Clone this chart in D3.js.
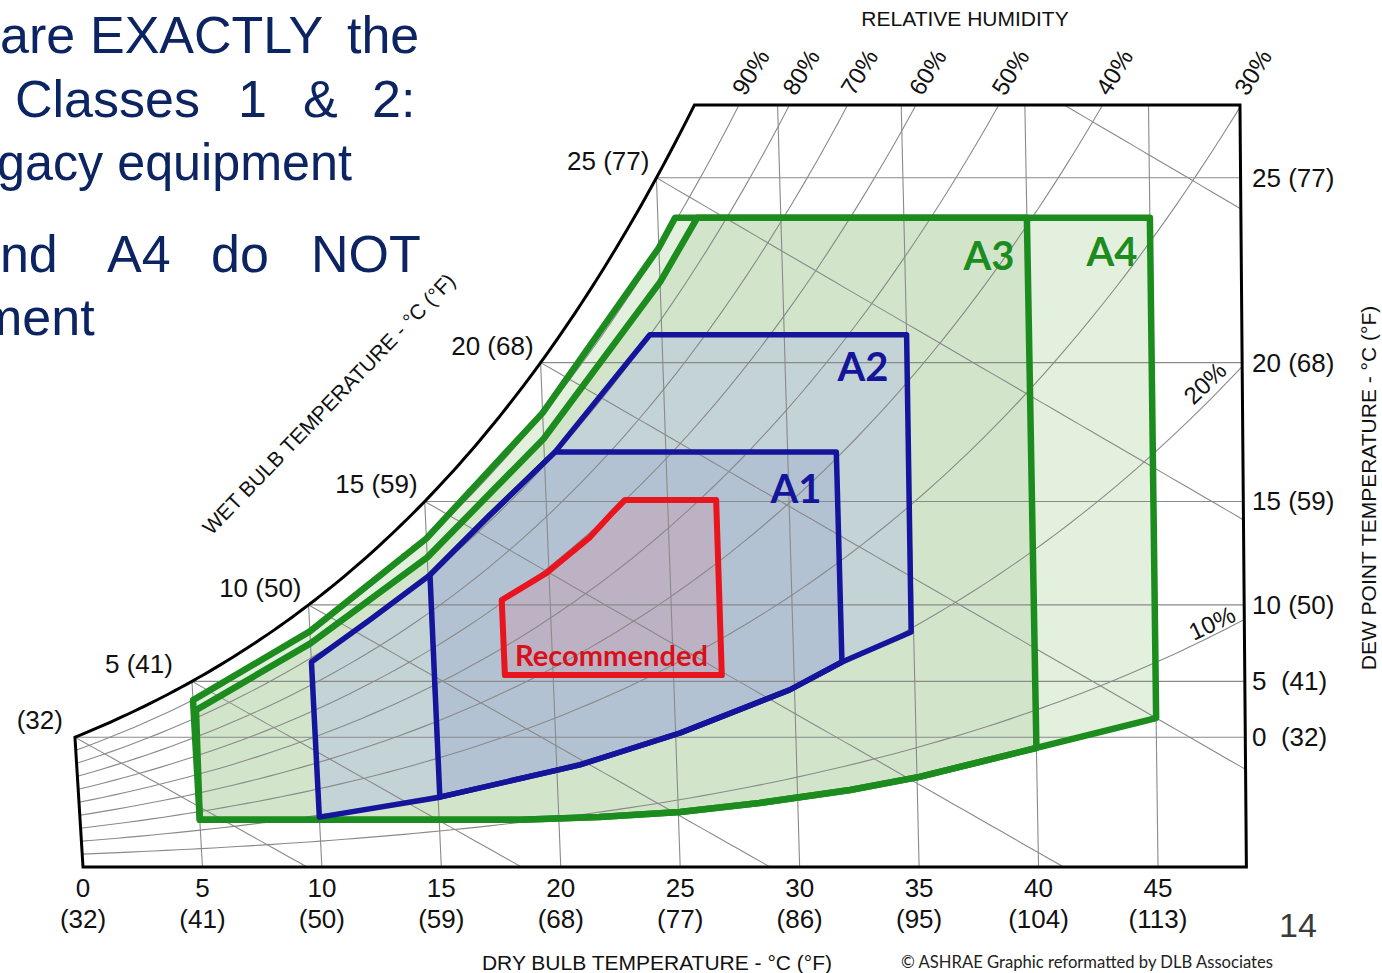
<!DOCTYPE html>
<html>
<head>
<meta charset="utf-8">
<script src="https://cdn.jsdelivr.net/npm/d3@7"></script>
<style>
  body { margin: 0; background: #fff; }
  svg { display: block; font-family: 'Liberation Sans', Arial, sans-serif; }
  .pre { white-space: pre; }
</style>
</head>
<body>
<svg id="chart" width="1382" height="973"></svg>
<script>
// ---- axis values ----
const dryBulbTicks = [0, 5, 10, 15, 20, 25, 30, 35, 40, 45];
const dryBulbF = ["(32)", "(41)", "(50)", "(59)", "(68)", "(77)", "(86)", "(95)", "(104)", "(113)"];
const dewPointTicks = [0, 5, 10, 15, 20, 25];
const dewPointLabels = ["0  (32)", "5  (41)", "10 (50)", "15 (59)", "20 (68)", "25 (77)"];
const wetBulbTicks = [0, 5, 10, 15, 20, 25];
const wetBulbLabels = ["(32)", "5 (41)", "10 (50)", "15 (59)", "20 (68)", "25 (77)"];
const wetBulbLines = [0, 5, 10, 15, 20, 25, 30];
const rhLines = [0.1, 0.2, 0.3, 0.4, 0.5, 0.6, 0.7, 0.8, 0.9];
const rhTopLabels = [0.9, 0.8, 0.7, 0.6, 0.5, 0.4, 0.3];
const rhSideLabels = [0.2, 0.1];

// ---- envelopes: [dry bulb °C, humidity ratio g/kg] ----
const recommended = [[18, 5.58], [18, 7.76], [19.9, 8.55], [21.75, 9.59], [22.7, 10.29], [23.25, 10.67], [27, 10.67], [27, 5.58]];
const classA1 = [[15.07, 2.03], [15.08, 8.49], [17.66, 10.23], [20.44, 12.06], [32, 12.06], [32, 5.96], [29.8, 5.15], [25.2, 3.9], [20.97, 2.97]];
const classA2 = [[10, 1.45], [10, 5.96], [12.5, 7.18], [15.08, 8.49], [17.66, 10.23], [20.44, 12.06], [24.51, 15.47], [35, 15.47], [34.9, 6.83], [32, 5.96], [29.8, 5.15], [25.2, 3.9], [20.97, 2.97], [15.07, 2.03]];
const lowerA34 = [[40, 3.46], [35.1, 2.62], [32.2, 2.24], [28.4, 1.86], [25.07, 1.6], [21.7, 1.45], [18.4, 1.37], [5, 1.37]];
const classA3 = [[5.1, 4.56], [10, 6.5], [15, 9.0], [20, 12.45], [25, 17.0], [26.6, 18.87], [40, 18.87]].concat(lowerA34);
const classA4 = [[5, 4.85], [10, 6.85], [15, 9.55], [20, 13.2], [25, 18.0], [25.7, 18.87], [45, 18.87], [45, 4.33]].concat(lowerA34);

// ---- psychrometrics (sea level) ----
const P = 101.325;
const pws = t => 0.61094 * Math.exp(17.625 * t / (t + 243.04));
const wFromPv = pv => 622 * pv / (P - pv);
const wSat = t => wFromPv(pws(t));
const wRh = (t, rh) => wFromPv(rh * pws(t));
const wWet = (t, twb) => {
  const ws = wSat(twb) / 1000;
  return 1000 * ((2501 - 2.326 * twb) * ws - 1.006 * (t - twb)) / (2501 + 1.86 * t - 4.186 * twb);
};
function solve(f, lo, hi) {
  for (let i = 0; i < 60; i++) {
    const m = (lo + hi) / 2;
    if (f(lo) * f(m) <= 0) hi = m; else lo = m;
  }
  return (lo + hi) / 2;
}

// ---- scales ----
const tMax = 48.7, wMax = 22.15;
const x = d3.scaleLinear().domain([0, 45]).range([83, 1158]);
const y = d3.scaleLinear().domain([0, wMax]).range([867, 105]);
// dry bulb lines lean a little to the left going up
const tilt = t => 0.062 - 0.0011 * t;
const px = (t, w) => x(t) - tilt(t) * (y(0) - y(w));
const pt = d => [px(d[0], d[1]), y(d[1])];
const line = d3.line();

const svg = d3.select("#chart");

// ---- frame ----
const tTop = solve(t => wSat(t) - wMax, 20, 35);
const frame = [[0, 0]].concat(d3.range(0, tTop, 0.25).map(t => [t, wSat(t)]))
  .concat([[tTop, wMax], [tMax, wMax], [tMax, 0]]).map(pt);

svg.append("clipPath").attr("id", "plot")
  .append("path").attr("d", line(frame) + "Z");

const envelopes = [
  { pts: classA4, fill: "#e3f0dd", stroke: "#1c8c1e", sw: 6.5 },
  { pts: classA3, fill: "#d2e5ca", stroke: "#1c8c1e", sw: 6.5 },
  { pts: classA2, fill: "#c3d3d6", stroke: "#15159c", sw: 5.5 },
  { pts: classA1, fill: "#b2c2d3", stroke: "#15159c", sw: 5.5 },
  { pts: recommended, fill: "#bcb2c4", stroke: "#e8141e", sw: 6 }
];

svg.append("g").selectAll("path").data(envelopes).join("path")
  .attr("d", d => line(d.pts.map(pt)) + "Z")
  .attr("fill", d => d.fill);

// ---- grid ----
const grid = svg.append("g").attr("clip-path", "url(#plot)")
  .attr("fill", "none").attr("stroke", "#8a8a8a").attr("stroke-width", 1.1);

// dry bulb
grid.selectAll(".db").data(dryBulbTicks.slice(1)).join("path")
  .attr("d", t => line([[t, 0], [t, Math.min(wSat(t), wMax)]].map(pt)));
// dew point
grid.selectAll(".dp").data(dewPointTicks).join("path")
  .attr("d", t => line([[t, wSat(t)], [tMax, wSat(t)]].map(pt)));
// relative humidity
grid.selectAll(".rh").data(rhLines).join("path")
  .attr("d", rh => line(d3.range(-3, tMax + 2, 0.5).map(t => pt([t, wRh(t, rh)]))));
// wet bulb
grid.selectAll(".wb").data(wetBulbLines).join("path")
  .attr("d", twb => {
    const pts = [];
    for (let t = twb; t < 75; t += 0.5) {
      const w = wWet(t, twb);
      pts.push([t, w]);
      if (w < 0) break;
    }
    return line(pts.map(pt));
  });

// frame outline
svg.append("path").attr("d", line(frame) + "Z")
  .attr("fill", "none").attr("stroke", "#000").attr("stroke-width", 3)
  .attr("stroke-linejoin", "miter");

// envelope outlines
svg.append("g").attr("fill", "none").attr("stroke-linejoin", "round")
  .selectAll("path").data(envelopes).join("path")
  .attr("d", d => line(d.pts.map(pt)) + "Z")
  .attr("stroke", d => d.stroke)
  .attr("stroke-width", d => d.sw);

// ---- envelope labels ----
const tags = svg.append("g").style("font-family", "Lato, 'Open Sans', sans-serif").style("font-weight", "bold");
tags.append("text").attr("x", 989).attr("y", 270).attr("text-anchor", "middle").attr("font-size", 40).attr("fill", "#1c8c1e").text("A3");
tags.append("text").attr("x", 1112).attr("y", 266).attr("text-anchor", "middle").attr("font-size", 40).attr("fill", "#1c8c1e").text("A4");
tags.append("text").attr("x", 863).attr("y", 381).attr("text-anchor", "middle").attr("font-size", 40).attr("fill", "#15159c").text("A2");
tags.append("text").attr("x", 796).attr("y", 503).attr("text-anchor", "middle").attr("font-size", 40).attr("fill", "#15159c").text("A1");
tags.append("text").attr("x", 515).attr("y", 666).attr("font-size", 29).attr("fill", "#d8101a")
  .attr("textLength", 193).attr("lengthAdjust", "spacingAndGlyphs").text("Recommended");

// ---- axis labels ----
const lab = svg.append("g").attr("fill", "#111").attr("font-size", 26);

lab.selectAll(".xn").data(dryBulbTicks).join("text")
  .attr("x", t => x(t)).attr("y", 897).attr("text-anchor", "middle").text(t => t);
lab.selectAll(".xf").data(dryBulbTicks).join("text")
  .attr("x", t => x(t)).attr("y", 928).attr("text-anchor", "middle").text((t, i) => dryBulbF[i]);

lab.selectAll(".yr").data(dewPointTicks).join("text").attr("class", "pre")
  .attr("x", 1252).attr("y", t => y(wSat(t)) + 9).text((t, i) => dewPointLabels[i]);

const wbLabelShift = [-5, -12, 0, 0, 0, 0];
lab.selectAll(".wbl").data(wetBulbTicks).join("text")
  .attr("x", (t, i) => px(t, wSat(t)) - 7 + wbLabelShift[i]).attr("y", t => y(wSat(t)) - 8)
  .attr("text-anchor", "end").text((t, i) => wetBulbLabels[i]);

// RH labels at the top edge
lab.selectAll(".rht").data(rhTopLabels).join("text")
  .attr("font-size", 24)
  .attr("transform", rh => {
    const t = solve(tt => wRh(tt, rh) - wMax, 10, 60);
    return `translate(${px(t, wMax) + 6},${y(wMax) - 8}) rotate(-58)`;
  })
  .text(rh => Math.round(rh * 100) + "%");

// RH labels at the right edge
const sideAngle = [-44, -25];
const sideDx = [-14, -7];
const sideDy = [6, 1];
lab.selectAll(".rhs").data(rhSideLabels).join("text")
  .attr("font-size", 24).attr("text-anchor", "end")
  .attr("transform", (rh, i) => {
    const w = wRh(tMax, rh);
    return `translate(${px(tMax, w) + sideDx[i]},${y(w) + sideDy[i]}) rotate(${sideAngle[i]})`;
  })
  .text(rh => Math.round(rh * 100) + "%");

// titles
lab.append("text").attr("x", 965).attr("y", 26).attr("text-anchor", "middle").attr("font-size", 21).text("RELATIVE HUMIDITY");
lab.append("text").attr("x", 657).attr("y", 970).attr("text-anchor", "middle").attr("font-size", 21).text("DRY BULB TEMPERATURE - °C (°F)");
lab.append("text").attr("transform", "translate(1376,488) rotate(-90)").attr("text-anchor", "middle").attr("font-size", 21).text("DEW POINT TEMPERATURE - °C (°F)");
lab.append("text").attr("transform", "translate(334,409) rotate(-46)").attr("text-anchor", "middle").attr("font-size", 21).text("WET BULB TEMPERATURE - °C (°F)");

svg.append("text").attr("x", 901).attr("y", 968).attr("font-size", 17).attr("fill", "#222")
  .style("font-family", "Lato, 'Open Sans', sans-serif")
  .attr("textLength", 372).attr("lengthAdjust", "spacingAndGlyphs")
  .text("© ASHRAE Graphic reformatted by DLB Associates");

svg.append("text").attr("x", 1279).attr("y", 937).attr("font-size", 34).attr("fill", "#3a3a3a").text("14");

// ---- slide text on the left (cropped at the page edge, as in the slide) ----
const words = [
  ["are", 0, 53, null], ["EXACTLY", 90, 53, null], ["the", 347, 53, null],
  ["Classes", 15, 117, null], ["1", 238, 117, null], ["&", 303, 117, null], ["2:", 372, 117, null],
  ["gacy equipment", -3, 180, 355],
  ["and", -29, 272, null], ["A4", 107, 272, null], ["do", 211, 272, null], ["NOT", 311, 272, null],
  ["ment", -21, 335, null]
];
svg.append("g").attr("fill", "#0c2461").attr("font-size", 52)
  .selectAll("text").data(words).join("text")
  .attr("x", d => d[1]).attr("y", d => d[2])
  .attr("textLength", d => d[3])
  .attr("lengthAdjust", "spacingAndGlyphs")
  .text(d => d[0]);
</script>
</body>
</html>
